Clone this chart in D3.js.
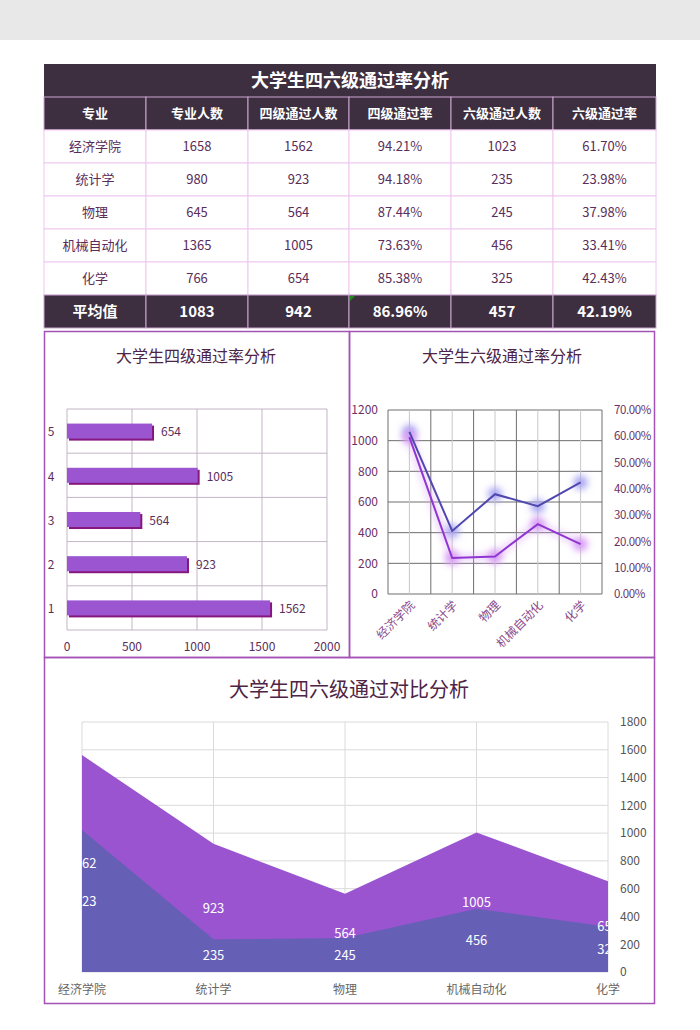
<!DOCTYPE html>
<html><head><meta charset="utf-8">
<script src="https://cdn.jsdelivr.net/npm/d3@7"></script>
<style>
html,body{margin:0;padding:0;background:#fff;}
svg{display:block;font-family:"Noto Sans CJK SC","Noto Sans",sans-serif;}
</style></head>
<body>
<svg id="c" width="700" height="1030"></svg>
<script>
// ---- data ----
const tableTitle = '大学生四六级通过率分析';
const headers = ['专业','专业人数','四级通过人数','四级通过率','六级通过人数','六级通过率'];
const majors = ['经济学院','统计学','物理','机械自动化','化学'];
const totals = [1658, 980, 645, 1365, 766];
const cet4 = [1562, 923, 564, 1005, 654];
const cet4Rate = ['94.21%','94.18%','87.44%','73.63%','85.38%'];
const cet6 = [1023, 235, 245, 456, 325];
const cet6Rate = ['61.70%','23.98%','37.98%','33.41%','42.43%'];
const avgRow = ['平均值','1083','942','86.96%','457','42.19%'];
const barIds = [1,2,3,4,5];
const barTicks = [0,500,1000,1500,2000];
const lineLeftTicks = [0,200,400,600,800,1000,1200];
const lineRightTicks = [0,10,20,30,40,50,60,70];
const areaTicks = [0,200,400,600,800,1000,1200,1400,1600,1800];
const chartTitles = ['大学生四级通过率分析','大学生六级通过率分析','大学生四六级通过对比分析'];

const svg = d3.select('#c');
const dark = '#3e2f40';
const txtC = '#5a2d5a';

// top gray band
svg.append('rect').attr('x',0).attr('y',0).attr('width',700).attr('height',40).attr('fill','#e8e8e8');

// ---- table ----
const colX = [44,146,248,349,451,553,656];
const rowsData = majors.map((m,i)=>[m, totals[i], cet4[i], cet4Rate[i], cet6[i], cet6Rate[i]]);
const tY0 = 64, titleH = 33, rowH = 33;
const tbl = svg.append('g');
tbl.append('rect').attr('x',44).attr('y',tY0).attr('width',612).attr('height',titleH).attr('fill',dark);
tbl.append('text').attr('x',350).attr('y',tY0+titleH/2).attr('dy','0.36em').attr('text-anchor','middle')
  .attr('fill','#fff').attr('font-size',18).attr('font-weight','bold').text(tableTitle);
function drawRow(cells, y, isDark, bold, fs){
  cells.forEach((c,j)=>{
    tbl.append('rect').attr('x',colX[j]).attr('y',y).attr('width',colX[j+1]-colX[j]).attr('height',rowH)
      .attr('fill',isDark?dark:'#fff').attr('stroke',isDark?'#c9a5cf':'#f0c8f0').attr('stroke-width',1);
    tbl.append('text').attr('x',(colX[j]+colX[j+1])/2).attr('y',y+rowH/2).attr('dy','0.36em')
      .attr('text-anchor','middle').attr('fill',isDark?'#fff':txtC)
      .attr('font-size',fs).attr('font-weight',bold?'bold':'normal').text(c);
  });
}
drawRow(headers, tY0+titleH, true, true, 13);
rowsData.forEach((r,i)=>drawRow(r, tY0+titleH+rowH*(i+1), false, false, 13));
const avgY = tY0+titleH+rowH*6;
drawRow(avgRow, avgY, true, true, 15);
tbl.append('path').attr('d',`M${colX[3]+1},${avgY+1}L${colX[3]+6},${avgY+1}L${colX[3]+1},${avgY+6}Z`).attr('fill','#1e8a1e');

// ---- chart boxes ----
const boxC = '#a452b6';
function titleText(t,x,y,fs){
  svg.append('text').attr('x',x).attr('y',y).attr('dy','0.36em').attr('text-anchor','middle')
    .attr('fill','#4e2446').attr('font-size',fs).text(t);
}

// ---- Bar chart ----
{
  const g = svg.append('g');
  const x = d3.scaleLinear().domain([0,2000]).range([67,327]);
  const y = d3.scaleBand().domain([5,4,3,2,1]).range([409,630]).paddingInner(0.66).paddingOuter(0.33);
  const gridC = '#c3b5c6';
  g.selectAll('.vg').data(barTicks).join('line').attr('x1',d=>x(d)).attr('x2',d=>x(d)).attr('y1',409).attr('y2',630).attr('stroke',gridC);
  const bounds = [409].concat([5,4,3,2,1].map(d=>y(d)+y.bandwidth()/2+y.step()/2));
  g.selectAll('.hg').data(bounds).join('line').attr('x1',67).attr('x2',327).attr('y1',d=>d).attr('y2',d=>d).attr('stroke',gridC);
  const bd = barIds.map((id,i)=>({id, v:cet4[i]}));
  g.selectAll('.sh').data(bd).join('rect').attr('x',x(0)+2).attr('y',d=>y(d.id)+2).attr('width',d=>x(d.v)-x(0)).attr('height',y.bandwidth()).attr('fill','#86177f');
  g.selectAll('.br').data(bd).join('rect').attr('x',x(0)).attr('y',d=>y(d.id)).attr('width',d=>x(d.v)-x(0)).attr('height',y.bandwidth()).attr('fill','#9b55d0');
  g.selectAll('.bl').data(bd).join('text').attr('x',d=>x(d.v)+9).attr('y',d=>y(d.id)+y.bandwidth()/2+1).attr('dy','0.36em')
    .attr('fill',txtC).attr('font-size',12).text(d=>d.v);
  g.selectAll('.yl').data(barIds).join('text').attr('x',51).attr('y',d=>y(d)+y.bandwidth()/2+1).attr('dy','0.36em')
    .attr('text-anchor','middle').attr('fill',txtC).attr('font-size',12).text(d=>d);
  g.selectAll('.xl').data(barTicks).join('text').attr('x',d=>x(d)).attr('y',647).attr('dy','0.36em')
    .attr('text-anchor','middle').attr('fill',txtC).attr('font-size',12).text(d=>d);
  titleText(chartTitles[0],196,356,16);
}

// ---- Line chart ----
{
  const g = svg.append('g');
  const defs = svg.append('defs');
  defs.append('filter').attr('id','glow').attr('x','-100%').attr('y','-100%').attr('width','300%').attr('height','300%')
    .append('feGaussianBlur').attr('stdDeviation',3.5);
  const x = d3.scaleBand().domain(majors).range([388,602]);
  const cx = d => x(d)+x.bandwidth()/2;
  const yL = d3.scaleLinear().domain([0,1200]).range([594,410]);
  const yR = d3.scaleLinear().domain([0,70]).range([594,410]);
  g.selectAll('.hg').data(lineLeftTicks).join('line').attr('x1',388).attr('x2',602).attr('y1',d=>yL(d)).attr('y2',d=>yL(d)).attr('stroke','#6e6e6e');
  g.selectAll('.vc').data(majors).join('line').attr('x1',cx).attr('x2',cx).attr('y1',410).attr('y2',594).attr('stroke','#c8c8c8');
  const edges = majors.map(m=>x(m)).concat([602]);
  g.selectAll('.ve').data(edges).join('line').attr('x1',d=>d).attr('x2',d=>d).attr('y1',410).attr('y2',594).attr('stroke','#6e6e6e');
  const rates = cet6Rate.map(s=>parseFloat(s));
  const blueData = majors.map((m,i)=>({m, v:rates[i]}));
  const purpData = majors.map((m,i)=>({m, v:cet6[i]}));
  // glows
  g.selectAll('.gb').data(blueData).join('circle').attr('cx',d=>cx(d.m)).attr('cy',d=>yR(d.v)).attr('r',7)
    .attr('fill','#a8a4f0').attr('filter','url(#glow)');
  g.selectAll('.gp').data(purpData).join('circle').attr('cx',d=>cx(d.m)).attr('cy',d=>yL(d.v)).attr('r',7)
    .attr('fill','#d89af4').attr('filter','url(#glow)');
  g.append('path').datum(purpData).attr('fill','none').attr('stroke','#d7a2f2').attr('stroke-width',7).attr('opacity',0.45).attr('filter','url(#glow)')
    .attr('d',d3.line().x(d=>cx(d.m)).y(d=>yL(d.v)));
  g.append('path').datum(blueData).attr('fill','none').attr('stroke','#5048b0').attr('stroke-width',2)
    .attr('d',d3.line().x(d=>cx(d.m)).y(d=>yR(d.v)));
  g.append('path').datum(purpData).attr('fill','none').attr('stroke','#8f35d4').attr('stroke-width',2)
    .attr('d',d3.line().x(d=>cx(d.m)).y(d=>yL(d.v)));
  g.selectAll('.yl').data(lineLeftTicks).join('text').attr('x',378).attr('y',d=>yL(d)).attr('dy','0.36em')
    .attr('text-anchor','end').attr('fill','#6a3266').attr('font-size',12).text(d=>d);
  g.selectAll('.yr').data(lineRightTicks).join('text').attr('x',614).attr('y',d=>yR(d)).attr('dy','0.36em')
    .attr('fill','#6a3266').attr('font-size',11.5).attr('letter-spacing','-0.4').text(d=>d.toFixed(2)+'%');
  g.selectAll('.xl').data(majors).join('text')
    .attr('transform',d=>`translate(${cx(d)+3},${603}) rotate(-45)`)
    .attr('text-anchor','end').attr('dy','0.36em').attr('fill','#8a4a8a').attr('font-size',12).text(d=>d);
  titleText(chartTitles[1],502,356,16);
}

// ---- Area chart ----
{
  const g = svg.append('g');
  const x = d3.scalePoint().domain(majors).range([82,608]);
  const y = d3.scaleLinear().domain([0,1800]).range([972,722]);
  svg.select('defs').append('clipPath').attr('id','plotClip').append('rect').attr('x',82).attr('y',722).attr('width',526).attr('height',250);
  g.selectAll('.hg').data(areaTicks).join('line').attr('x1',82).attr('x2',608).attr('y1',d=>y(d)).attr('y2',d=>y(d)).attr('stroke','#dadada');
  g.selectAll('.vg').data(majors).join('line').attr('x1',d=>x(d)).attr('x2',d=>x(d)).attr('y1',722).attr('y2',972).attr('stroke','#dadada');
  const d4 = majors.map((m,i)=>({m, v:cet4[i]}));
  const d6 = majors.map((m,i)=>({m, v:cet6[i]}));
  const area = d3.area().x(d=>x(d.m)).y0(y(0)).y1(d=>y(d.v));
  g.append('path').datum(d4).attr('fill','#9b54d0').attr('d',area);
  g.append('path').datum(d6).attr('fill','#665fb6').attr('d',area);
  const lg = g.append('g').attr('clip-path','url(#plotClip)');
  lg.selectAll('.l4').data(d4).join('text').attr('x',d=>x(d.m)).attr('y',d=>y(d.v/2)).attr('dy','0.36em')
    .attr('text-anchor','middle').attr('fill','#fff').attr('font-size',13).text(d=>d.v);
  lg.selectAll('.l6').data(d6).join('text').attr('x',d=>x(d.m)).attr('y',d=>y(d.v/2)).attr('dy','0.36em')
    .attr('text-anchor','middle').attr('fill','#fff').attr('font-size',13).text(d=>d.v);
  g.selectAll('.yr').data(areaTicks).join('text').attr('x',620).attr('y',d=>y(d)).attr('dy','0.36em')
    .attr('fill','#555').attr('font-size',12).text(d=>d);
  g.selectAll('.xl').data(majors).join('text').attr('x',d=>x(d)).attr('y',990).attr('dy','0.36em')
    .attr('text-anchor','middle').attr('fill','#666').attr('font-size',12).text(d=>d);
  titleText(chartTitles[2],349,690,20);
}

// box borders
svg.append('rect').attr('x',44.5).attr('y',331.5).attr('width',305).attr('height',326).attr('fill','none').attr('stroke',boxC).attr('stroke-width',1.5);
svg.append('rect').attr('x',349.5).attr('y',331.5).attr('width',305).attr('height',326).attr('fill','none').attr('stroke',boxC).attr('stroke-width',1.5);
svg.append('rect').attr('x',44.5).attr('y',657.5).attr('width',610).attr('height',346).attr('fill','none').attr('stroke',boxC).attr('stroke-width',1.5);
</script>
</body></html>
